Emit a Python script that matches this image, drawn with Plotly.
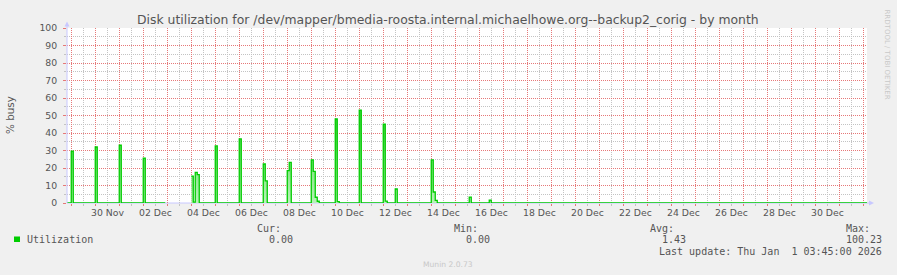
import numpy as np
import pandas as pd
import plotly.graph_objects as go

# ---------------- data ----------------
range_start = "2025-11-28 19:45"
range_end = "2026-01-01 03:45"
slot_first = "2025-11-28 18:00"
slot_last = "2026-01-01 04:00"

# start of each busy period (2-hour consolidated samples) and the samples
spike_times = [
    "2025-11-29 00:00", "2025-11-30 00:00", "2025-12-01 00:00", "2025-12-02 00:00",
    "2025-12-04 00:00", "2025-12-05 00:00", "2025-12-06 00:00", "2025-12-07 00:00",
    "2025-12-08 00:00", "2025-12-09 00:00", "2025-12-10 00:00", "2025-12-11 00:00",
    "2025-12-12 00:00", "2025-12-12 12:00", "2025-12-14 00:00", "2025-12-15 14:00",
    "2025-12-16 10:00",
]
spike_values = [
    [29.7], [32.0], [33.0], [25.7],
    [15.4, 0.5, 17.5, 16.2], [32.6], [36.6], [22.3, 12.6],
    [18.5, 23.2], [24.6, 18.1, 3.3, 1.0], [48.0, 0.8], [53.1],
    [45.1, 1.1], [8.0], [24.6, 6.3, 1.5], [3.4],
    [1.7],
]
# no data recorded during this period
gap_start = "2025-12-03 00:00"
gap_end = "2025-12-03 22:00"

tick_dates = [
    "2025-11-30 12:00", "2025-12-02 12:00", "2025-12-04 12:00", "2025-12-06 12:00",
    "2025-12-08 12:00", "2025-12-10 12:00", "2025-12-12 12:00", "2025-12-14 12:00",
    "2025-12-16 12:00", "2025-12-18 12:00", "2025-12-20 12:00", "2025-12-22 12:00",
    "2025-12-24 12:00", "2025-12-26 12:00", "2025-12-28 12:00", "2025-12-30 12:00",
]
tick_labels = [
    "30 Nov", "02 Dec", "04 Dec", "06 Dec", "08 Dec", "10 Dec", "12 Dec", "14 Dec",
    "16 Dec", "18 Dec", "20 Dec", "22 Dec", "24 Dec", "26 Dec", "28 Dec", "30 Dec",
]

stat_cur = "0.00"
stat_min = "0.00"
stat_avg = "1.43"
stat_max = "100.23"
last_update = "Last update: Thu Jan \u00a01 03:45:00 2026"
title_text = ("Disk utilization for /dev/mapper/bmedia-roosta.internal.michaelhowe.org"
              "--backup2_corig - by month")

# ---------------- build series ----------------
times = pd.date_range(slot_first, slot_last, freq="2h")
util = pd.Series(0.0, index=times)
for t, vals in zip(spike_times, spike_values):
    for i, v in enumerate(vals):
        util[pd.Timestamp(t) + pd.Timedelta(hours=2 * i)] = v
util[gap_start:gap_end] = np.nan

# split into contiguous runs so the area does not bridge the gap
run_id = util.isna().cumsum()
segments = [s.dropna() for _, s in util.groupby(run_id)]
segments = [s for s in segments if len(s)]

# grid positions: minor (noon lines, odd multiples of 5), major (midnights, tens)
noon_grid = [d.strftime("%Y-%m-%d %H:%M")
             for d in pd.date_range("2025-11-29 12:00", "2025-12-31 12:00", freq="24h")]
y_minor_grid = [5, 15, 25, 35, 45, 55, 65, 75, 85, 95]

# ---------------- figure ----------------
L, R, T, B = 67, 867, 28, 203
W, H = 897, 275
SANS = "DejaVu Sans"
MONO = "DejaVu Sans Mono"
TXT = "#555555"
MAJOR = "rgb(230,120,120)"
MINOR = "rgb(195,195,195)"
AXIS = "rgb(200,200,255)"
DOTS = "1px,1px"


def px(x):
    return (x - L) / (R - L)


def py(y):
    return (B - y) / (B - T)


fig = go.Figure()
for seg in segments:
    fig.add_trace(go.Scatter(
        x=seg.index, y=seg.values, mode="lines",
        line=dict(color="#00cc00", width=1.3, shape="hv"),
        fill="tozeroy",
        fillgradient=dict(type="vertical", start=0, stop=45,
                          colorscale=[[0, "rgb(185,242,185)"], [1, "rgb(70,215,70)"]]),
        hoverinfo="skip",
    ))
# empty trace that activates the overlaid axes carrying the major (pink) grid
fig.add_trace(go.Scatter(x=[], y=[], xaxis="x2", yaxis="y2", mode="lines",
                         hoverinfo="skip", showlegend=False))

annotations = []


def ann(text, x, y, xanchor="left", size=10, family=MONO, color=TXT, angle=0):
    annotations.append(dict(
        text=text, xref="paper", yref="paper", x=px(x), y=py(y),
        xanchor=xanchor, yanchor="middle", showarrow=False, borderpad=0,
        textangle=angle, font=dict(family=family, size=size, color=color)))


ann(title_text, 448, 19, xanchor="center", size=12.4, family=SANS)
ann("% busy", 10, 115, xanchor="center", size=10.4, family=SANS, angle=-90)
ann("RRDTOOL / TOBI OETIKER", 886.5, 54, xanchor="center", size=7, family=SANS,
    color="rgb(200,200,200)", angle=90)
ann("Utilization", 26, 239.3)
ann("Cur:", 281.5, 228, xanchor="right")
ann(stat_cur, 293.5, 239.3, xanchor="right")
ann("Min:", 478.5, 228, xanchor="right")
ann(stat_min, 491, 239.3, xanchor="right")
ann("Avg:", 674.5, 228, xanchor="right")
ann(stat_avg, 687, 239.3, xanchor="right")
ann("Max:", 870.5, 228, xanchor="right")
ann(stat_max, 883.5, 239.3, xanchor="right")
ann(last_update, 883.5, 251.3, xanchor="right")
ann("Munin 2.0.73", 448, 264, xanchor="center", size=7.6, family=SANS,
    color="rgb(200,200,200)")

# x tick labels (centred at noon, between the day grid lines)
for d, lab in zip(tick_dates, tick_labels):
    annotations.append(dict(
        text=lab, xref="x", yref="paper", x=d, y=py(212.3),
        xanchor="center", yanchor="middle", showarrow=False, borderpad=0,
        font=dict(family=SANS, size=9.3, color=TXT)))

shapes = [
    # axis lines with arrows
    dict(type="line", xref="paper", yref="paper", x0=px(L), y0=py(B), x1=px(870), y1=py(B),
         line=dict(color=AXIS, width=1), layer="below"),
    dict(type="path", xref="paper", yref="paper", layer="above",
         path=f"M {px(869)} {py(200.5)} L {px(874)} {py(203)} L {px(869)} {py(205.5)} Z",
         fillcolor=AXIS, line=dict(width=0)),
    dict(type="line", xref="paper", yref="paper", x0=px(L), y0=py(B), x1=px(L), y1=py(25),
         line=dict(color=AXIS, width=1), layer="above"),
    dict(type="path", xref="paper", yref="paper", layer="above",
         path=f"M {px(64.5)} {py(26.5)} L {px(67)} {py(21.5)} L {px(69.5)} {py(26.5)} Z",
         fillcolor=AXIS, line=dict(width=0)),
    # legend colour box
    dict(type="rect", xref="paper", yref="paper", x0=px(14), x1=px(20), y0=py(242), y1=py(236.5),
         fillcolor="#00cc00", line=dict(width=0)),
]

fig.update_layout(
    width=W, height=H, autosize=False,
    margin=dict(l=L, r=W - R, t=T, b=H - B, pad=0),
    paper_bgcolor="#F0F0F0", plot_bgcolor="white",
    showlegend=False,
    annotations=annotations, shapes=shapes,
    # main axes: grey minor grid + y tick labels
    xaxis=dict(
        type="date", range=[range_start, range_end], fixedrange=True,
        tickmode="array", tickvals=noon_grid, showticklabels=False,
        ticks="outside", ticklen=2, tickcolor=MINOR,
        showgrid=True, gridcolor=MINOR, griddash=DOTS, gridwidth=1,
        zeroline=False, showline=False,
    ),
    yaxis=dict(
        range=[0, 100], fixedrange=True, tickmode="array", tickvals=y_minor_grid,
        showticklabels=False, ticks="outside", ticklen=2, tickcolor=MINOR,
        showgrid=True, gridcolor=MINOR, griddash=DOTS, gridwidth=1,
        zeroline=False, showline=False,
    ),
    # overlaid axes: pink major grid (drawn on top of the grey one) + y labels
    xaxis2=dict(
        type="date", range=[range_start, range_end], fixedrange=True,
        overlaying="x", anchor="y2", side="bottom",
        tickmode="linear", tick0="2025-11-29", dtick=86400000,
        showticklabels=False, ticks="outside", ticklen=2, tickcolor=MAJOR,
        showgrid=True, gridcolor=MAJOR, griddash=DOTS, gridwidth=1,
        zeroline=False, showline=False,
    ),
    yaxis2=dict(
        range=[0, 100], fixedrange=True, overlaying="y", anchor="x2", side="left",
        tickmode="linear", tick0=0, dtick=10,
        ticks="outside", ticklen=3, tickcolor=MAJOR,
        showgrid=True, gridcolor=MAJOR, griddash=DOTS, gridwidth=1,
        zeroline=False, showline=False,
        tickfont=dict(family=SANS, size=9.3, color=TXT), ticklabelstandoff=4,
    ),
)

fig.write_html("out.html")
